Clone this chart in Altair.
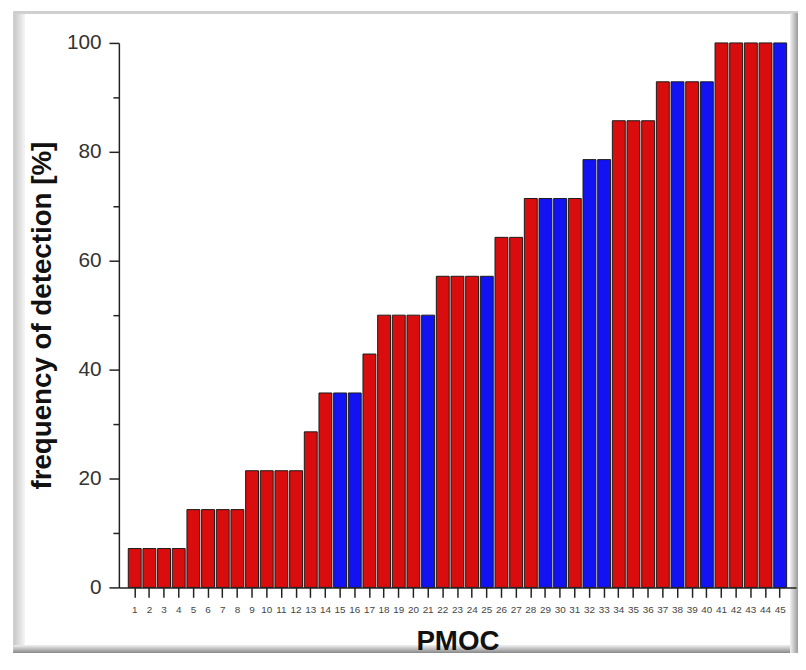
import altair as alt
import pandas as pd

pmoc = [str(i) for i in range(1, 46)]
frequency = [7.14, 7.14, 7.14, 7.14,
             14.29, 14.29, 14.29, 14.29,
             21.43, 21.43, 21.43, 21.43,
             28.57,
             35.71, 35.71, 35.71,
             42.86,
             50.0, 50.0, 50.0, 50.0,
             57.14, 57.14, 57.14, 57.14,
             64.29, 64.29,
             71.43, 71.43, 71.43, 71.43,
             78.57, 78.57,
             85.71, 85.71, 85.71,
             92.86, 92.86, 92.86, 92.86,
             100.0, 100.0, 100.0, 100.0, 100.0]
group = ["red"] * 14 + ["blue", "blue"] + ["red"] * 4 + ["blue"] + ["red"] * 3 + ["blue"] \
    + ["red"] * 3 + ["blue", "blue", "red", "blue", "blue"] + ["red"] * 4 + ["blue", "red", "blue"] \
    + ["red"] * 4 + ["blue"]

y_major = [0, 20, 40, 60, 80, 100]
y_minor = [10, 30, 50, 70, 90]

df = pd.DataFrame({"pmoc": pmoc, "frequency": frequency, "group": group})

FONT = "Liberation Sans"
W, H = 684, 550
BOTTOM = 66

xscale = alt.Scale(paddingInner=0.12, paddingOuter=0.64)
yscale = alt.Scale(domain=[0, 100], nice=False, zero=True)

xaxis = alt.Axis(title="PMOC", labelAngle=0, labelFontSize=10, labelColor="#444444",
                 labelFont=FONT, labelPadding=7, tickSize=10, tickColor="#222222",
                 tickWidth=1.5, domainColor="#222222", domainWidth=1.5,
                 titleFont=FONT, titleFontSize=28, titleFontWeight="bold",
                 titleColor="#111111", titlePadding=14, labelOverlap=False, zindex=1)

bars = alt.Chart(df).mark_bar(stroke="#1a1a1a", strokeWidth=1).encode(
    x=alt.X("pmoc:N", sort=pmoc, scale=xscale, axis=xaxis),
    y=alt.Y("frequency:Q", scale=yscale,
            axis=alt.Axis(title="frequency of detection [%]", values=y_major, orient="left",
                          labelFontSize=21, labelColor="#333333", labelFont=FONT,
                          labelPadding=8, tickSize=10, tickColor="#222222", tickWidth=1.5,
                          domainColor="#222222", domainWidth=1.5, grid=False,
                          titleFont=FONT, titleFontSize=28, titleFontWeight="bold",
                          titleColor="#111111", titlePadding=10, zindex=1)),
    color=alt.Color("group:N", scale=alt.Scale(domain=["red", "blue"], range=["#d90d0d", "#1212f2"]),
                    legend=None),
)

minor = alt.Chart(df).mark_bar(opacity=0).encode(
    x=alt.X("pmoc:N", sort=pmoc, scale=xscale, axis=xaxis),
    y=alt.Y("frequency:Q", scale=yscale,
            axis=alt.Axis(values=y_minor, orient="left", labels=False, tickSize=6,
                          tickColor="#222222", tickWidth=1.5, domain=False, grid=False,
                          title=None, zindex=1)),
)

frame_left = alt.Chart(df).mark_rect(
    color=alt.LinearGradient(gradient="linear", x1=0, x2=1, y1=0, y2=0,
                             stops=[alt.GradientStop(color="#c8c8c8", offset=0),
                                    alt.GradientStop(color="#f4f4f4", offset=1)]),
    clip=False).encode(x=alt.value(-106), x2=alt.value(-95), y=alt.value(-31), y2=alt.value(H + BOTTOM))
frame_top = alt.Chart(df).mark_rect(color="#cfcfcf", clip=False).encode(
    x=alt.value(-106), x2=alt.value(W + 2), y=alt.value(-32), y2=alt.value(-30))
frame_bottom = alt.Chart(df).mark_rect(
    color=alt.LinearGradient(gradient="linear", x1=0, x2=0, y1=0, y2=1,
                             stops=[alt.GradientStop(color="#e8e8e8", offset=0),
                                    alt.GradientStop(color="#8a8a8a", offset=1)]),
    clip=False).encode(x=alt.value(-106), x2=alt.value(W + 2), y=alt.value(H + BOTTOM - 7),
                       y2=alt.value(H + BOTTOM))
frame_right = alt.Chart(df).mark_rect(
    color=alt.LinearGradient(gradient="linear", x1=0, x2=1, y1=0, y2=0,
                             stops=[alt.GradientStop(color="#f0f0f0", offset=0),
                                    alt.GradientStop(color="#9a9a9a", offset=1)]),
    clip=False).encode(x=alt.value(W - 6), x2=alt.value(W + 2), y=alt.value(-30), y2=alt.value(H + BOTTOM))

chart = alt.layer(frame_left, frame_top, frame_bottom, frame_right, bars, minor).resolve_axis(
    y="independent"
).properties(
    width=W, height=H,
    padding={"left": 112, "top": 32, "right": 2, "bottom": BOTTOM},
    autosize=alt.AutoSizeParams(type="none"),
    background="white",
).configure_view(stroke=None)

chart.save("out.html", embed_options={"renderer": "svg", "actions": False})
